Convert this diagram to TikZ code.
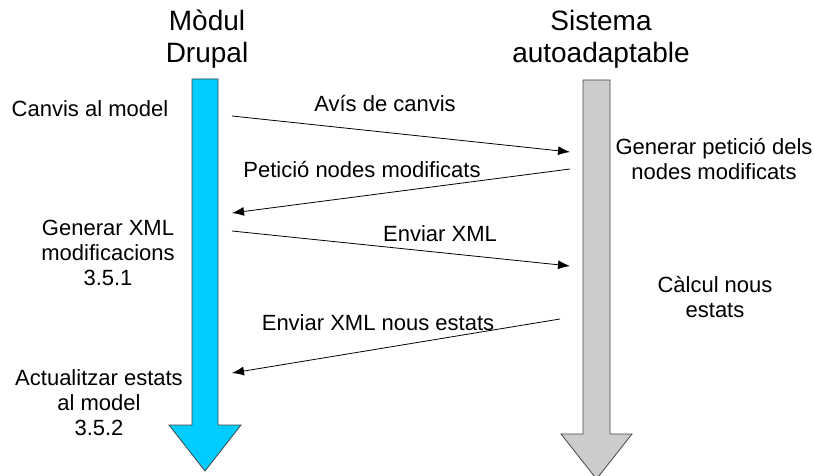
\documentclass[tikz,border=0pt]{standalone}
\usepackage{fontspec}
\setmainfont{Liberation Sans}
\usetikzlibrary{arrows.meta}
\definecolor{drupalblue}{RGB}{0,204,255}
\definecolor{sysgray}{RGB}{204,204,204}
\definecolor{edgegray}{RGB}{70,70,70}

\begin{document}
\begin{tikzpicture}[x=1pt,y=-1pt,
	every node/.style={inner sep=0pt},
	lbl/.style={font=\fontsize{22}{25}\selectfont, align=center},
	ttl/.style={font=\fontsize{28}{32}\selectfont, align=center},
	msg/.style={-{Latex[length=12pt,width=9pt]}, line width=0.8pt},
	lifeline/.style={draw=edgegray, line width=0.8pt, line join=miter}]

	\useasboundingbox (0,0) rectangle (814,476);

	%% lifeline arrows
	\def\bx{205}   % drupal centre
	\def\gx{596.5} % system centre

	\filldraw[lifeline, fill=drupalblue]
		(\bx-13,79) -- (\bx+13,79) -- (\bx+13,425) -- (\bx+36,425)
		-- (\bx,471) -- (\bx-36,425) -- (\bx-13,425) -- cycle;
	\filldraw[lifeline, fill=sysgray]
		(\gx-13.5,80) -- (\gx+13.5,80) -- (\gx+13.5,434) -- (\gx+35.5,434)
		-- (\gx,479) -- (\gx-35.5,434) -- (\gx-13.5,434) -- cycle;

	%% titles
	\node[ttl] (drupal) at (207,39) {Mòdul\\Drupal};
	\node[ttl] (sistema) at (601,39) {Sistema\\autoadaptable};

	%% step labels
	\node[lbl, anchor=base] (canvis) at (90,117) {Canvis al model};
	\node[lbl] (genxml) at (108,252.5) {Generar XML\\modificacions\\3.5.1};
	\node[lbl] (actual) at (99,402.5) {Actualitzar estats\\al model\\3.5.2};
	\node[lbl] (genpet) at (714,159) {Generar petició dels\\nodes modificats};
	\node[lbl] (calcul) at (715,297.5) {Càlcul nous\\estats};

	%% message ends
	\coordinate (m1a) at (232,116);
	\coordinate (m1b) at (570,152);
	\coordinate (m2a) at (570,169);
	\coordinate (m2b) at (232,213);
	\coordinate (m3a) at (232,231);
	\coordinate (m3b) at (570,266);
	\coordinate (m4a) at (560,319);
	\coordinate (m4b) at (232,373);

	\draw[msg] (m1a) -- (m1b);
	\draw[msg] (m2a) -- (m2b);
	\draw[msg] (m3a) -- (m3b);
	\draw[msg] (m4a) -- (m4b);

	%% message labels
	\node[lbl, anchor=base] (avis) at (385,112) {Avís de canvis};
	\node[lbl, anchor=base] (peticio) at (362,178) {Petició nodes modificats};
	\node[lbl, anchor=base] (enviar) at (440,241) {Enviar XML};
	\node[lbl, anchor=base] (enviarnous) at (378,330) {Enviar XML nous estats};

\end{tikzpicture}
\end{document}
